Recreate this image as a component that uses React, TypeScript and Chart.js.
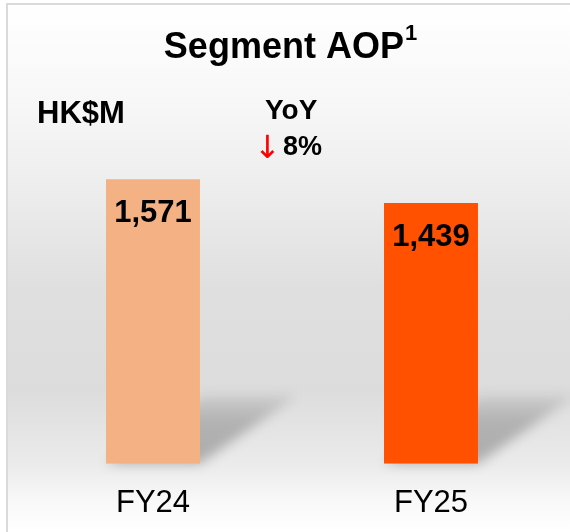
import { useEffect, useRef } from "react";
import { Chart, registerables } from "chart.js";

Chart.register(...registerables);

const categories = ["FY24", "FY25"];
const aopValues = [1571, 1439];
const barColors = ["#F4B183", "#FF5100"];
const titleText = "Segment AOP";
const titleSup = "1";
const unitLabel = "HK$M";
const yoyLabel = "YoY";
const yoyArrow = "↓";
const yoyChange = "8%";
const yMax = 2000;

const FONT = '"Liberation Sans", Arial, Helvetica, sans-serif';

const fmt = (v: number) => v.toLocaleString("en-US");

const decorPlugin = {
  id: "decor",
  beforeDraw(chart: any) {
    const { ctx, width, height } = chart;
    ctx.save();
    ctx.fillStyle = "#ffffff";
    ctx.fillRect(0, 0, width, height);
    const g = ctx.createLinearGradient(0, 0, 0, 532);
    g.addColorStop(0, "#ffffff");
    g.addColorStop(0.19, "#f7f7f7");
    g.addColorStop(0.34, "#eeeeee");
    g.addColorStop(0.545, "#dfdfdf");
    g.addColorStop(0.73, "#dcdcdc");
    g.addColorStop(0.874, "#ebebeb");
    g.addColorStop(0.94, "#f8f8f8");
    g.addColorStop(1, "#ffffff");
    ctx.fillStyle = g;
    ctx.fillRect(7, 4, width - 7, height - 4);
    ctx.fillStyle = "#dadada";
    ctx.fillRect(6, 3, 2, height - 3);
    ctx.fillRect(6, 3, width - 6, 2);
    ctx.restore();
  },
  beforeDatasetsDraw(chart: any) {
    const { ctx } = chart;
    const meta = chart.getDatasetMeta(0);
    ctx.save();
    ctx.filter = "blur(6px)";
    meta.data.forEach((bar: any) => {
      const { x, base, width } = bar.getProps(["x", "base", "width"], true);
      const L = x - width / 2;
      const R = x + width / 2;
      const dx = 97;
      const dy = 68;
      const grad = ctx.createLinearGradient(0, base, 0, base - dy);
      grad.addColorStop(0, "rgba(0,0,0,0.26)");
      grad.addColorStop(0.6, "rgba(0,0,0,0.22)");
      grad.addColorStop(1, "rgba(0,0,0,0.08)");
      ctx.fillStyle = grad;
      ctx.beginPath();
      ctx.moveTo(L, base);
      ctx.lineTo(R, base);
      ctx.lineTo(R + dx, base - dy);
      ctx.lineTo(L + dx, base - dy);
      ctx.closePath();
      ctx.fill();
    });
    ctx.restore();
  },
  afterDatasetsDraw(chart: any) {
    const { ctx } = chart;
    const meta = chart.getDatasetMeta(0);
    ctx.save();
    ctx.fillStyle = "#000000";
    ctx.font = `bold 31px ${FONT}`;
    ctx.textAlign = "center";
    ctx.textBaseline = "alphabetic";
    meta.data.forEach((bar: any, i: number) => {
      const { x, y } = bar.getProps(["x", "y"], true);
      ctx.fillText(fmt(aopValues[i]), x, y + 43);
    });
    ctx.restore();
  },
  afterDraw(chart: any) {
    const { ctx } = chart;
    ctx.save();
    ctx.fillStyle = "#000000";
    ctx.textBaseline = "alphabetic";
    ctx.textAlign = "left";
    // title with superscript
    ctx.font = `bold 36px ${FONT}`;
    const tw = ctx.measureText(titleText).width;
    ctx.font = `bold 22px ${FONT}`;
    const sw = ctx.measureText(titleSup).width;
    const startX = 290.5 - (tw + sw + 1) / 2;
    ctx.font = `bold 36px ${FONT}`;
    ctx.fillText(titleText, startX, 58);
    ctx.font = `bold 22px ${FONT}`;
    ctx.fillText(titleSup, startX + tw + 1, 40);
    // unit
    ctx.font = `bold 31px ${FONT}`;
    ctx.fillText(unitLabel, 37, 123);
    // YoY
    ctx.font = `bold 28px ${FONT}`;
    ctx.fillText(yoyLabel, 265, 119);
    ctx.font = `bold 27px ${FONT}`;
    ctx.fillText(yoyChange, 283, 155);
    ctx.fillStyle = "#FF0000";
    ctx.font = `32px "DejaVu Sans", sans-serif`;
    ctx.fillText(yoyArrow, 254, 158);
    ctx.restore();
  },
};

export default function App() {
  const canvasRef = useRef<HTMLCanvasElement | null>(null);

  useEffect(() => {
    if (!canvasRef.current) return;
    const chart = new Chart(canvasRef.current, {
      type: "bar",
      data: {
        labels: categories,
        datasets: [
          {
            data: aopValues,
            backgroundColor: barColors,
            borderWidth: 0,
            barPercentage: 1,
            categoryPercentage: 0.338,
          },
        ],
      },
      options: {
        animation: false,
        responsive: true,
        maintainAspectRatio: false,
        layout: { padding: { left: 14, right: 0, top: 101.4, bottom: -11 } },
        plugins: {
          legend: { display: false },
          tooltip: { enabled: false },
          title: { display: false },
        },
        scales: {
          x: {
            grid: { display: false, drawTicks: false },
            border: { display: false },
            ticks: {
              color: "#000000",
              font: { family: FONT, size: 31 },
              padding: 21,
            },
          },
          y: {
            display: false,
            min: 0,
            max: yMax,
          },
        },
      },
      plugins: [decorPlugin],
    });
    return () => chart.destroy();
  }, []);

  return (
    <div style={{ position: "fixed", left: 0, top: 0, width: 570, height: 532 }}>
      <canvas ref={canvasRef} />
    </div>
  );
}
